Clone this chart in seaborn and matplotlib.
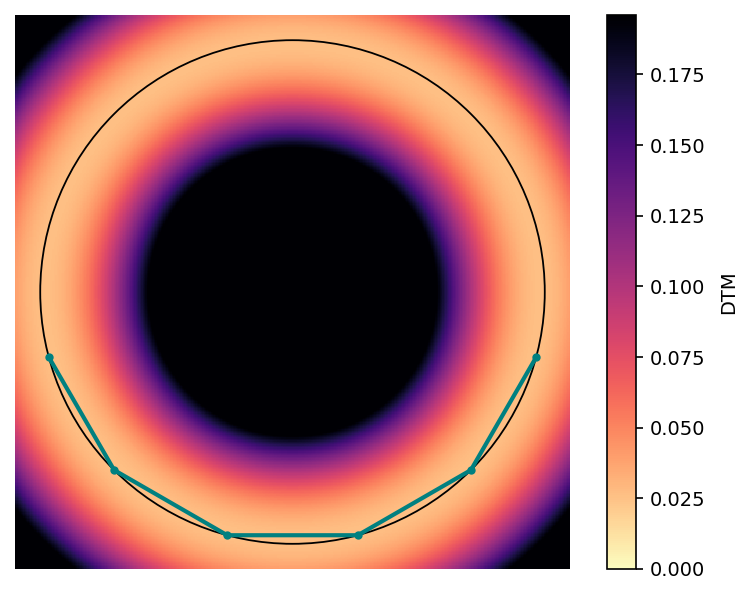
"""
Distance-to-measure field of the uniform measure on the unit circle,
with a polygonal path through points on that circle.
"""

import numpy as np
import pandas as pd
import seaborn as sns
import matplotlib.pyplot as plt

# Constants
EXTENT = 1.1  # half-width of the plotted square
GRID_SIZE = 400
MASS = 0.09  # DTM mass parameter
VMAX = 0.196  # top of the colour bar
CIRCLE_RADIUS = 1.0
PATH_ANGLES_DEG = [195, 225, 255, 285, 315, 345]
PATH_COLOR = "#008080"


def dtm_field(extent, n, mass):
    """DTM (mean squared distance to the m-mass) for the uniform circle measure."""
    xs = np.linspace(-extent, extent, n)
    X, Y = np.meshgrid(xs, xs)
    r = np.hypot(X, Y)
    theta = np.pi * mass
    return r**2 + 1 - 2 * r * np.sin(theta) / theta


def main():
    field = dtm_field(EXTENT, GRID_SIZE, MASS)

    fig = plt.figure(figsize=(7.51, 5.96), dpi=100)
    rect = [15 / 751, 27 / 596, 555 / 751, 554 / 596]
    ax = fig.add_axes(rect)
    cax = fig.add_axes([607 / 751, 27 / 596, 29 / 751, 554 / 596])

    # Field as heatmap (rows flipped so y goes up)
    sns.heatmap(
        field[::-1],
        ax=ax,
        cmap="magma_r",
        vmin=0,
        vmax=VMAX,
        cbar_ax=cax,
        cbar_kws={"label": "DTM"},
        xticklabels=False,
        yticklabels=False,
        rasterized=True,
    )
    ax.axis("off")

    cbar = ax.collections[0].colorbar
    cbar.outline.set_visible(True)
    cbar.outline.set_linewidth(1.2)
    cbar.outline.set_edgecolor("black")
    cax.tick_params(length=5, width=1.2, pad=5, labelsize=14)
    cbar.set_label("DTM", fontsize=14, labelpad=10)

    # Overlay in data coordinates
    ov = fig.add_axes(rect)
    ov.patch.set_alpha(0)

    ov.add_patch(
        plt.Circle((0, 0), CIRCLE_RADIUS, fill=False, color="black", linewidth=1.3)
    )

    rad = np.deg2rad(PATH_ANGLES_DEG)
    path = pd.DataFrame(
        {"x": CIRCLE_RADIUS * np.cos(rad), "y": CIRCLE_RADIUS * np.sin(rad)}
    )
    sns.lineplot(
        data=path,
        x="x",
        y="y",
        sort=False,
        ax=ov,
        color=PATH_COLOR,
        linewidth=3,
        marker="o",
        markersize=6,
        markeredgewidth=0,
    )
    ov.set_xlim(-EXTENT, EXTENT)
    ov.set_ylim(-EXTENT, EXTENT)
    ov.axis("off")

    fig.savefig("out.png", dpi=100)
    plt.close()


if __name__ == "__main__":
    main()
